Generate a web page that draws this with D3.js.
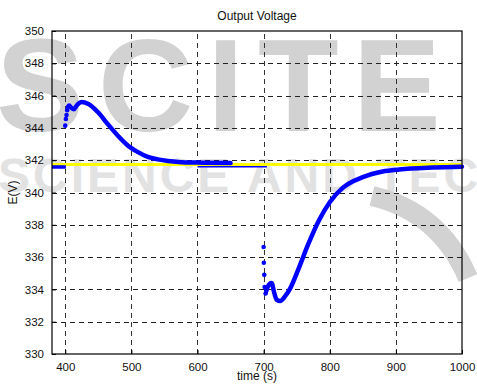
<!DOCTYPE html>
<html>
<head>
<meta charset="utf-8">
<script src="https://cdn.jsdelivr.net/npm/d3@7"></script>
<style>
  body { margin: 0; background: #fff; }
  svg text { font-family: "Liberation Sans", Arial, sans-serif; }
</style>
</head>
<body>
<div id="chart"></div>
<script>
var w = 477;
var h = 385;
var margin = {top: 31, right: 15, bottom: 31, left: 52};

// tick values
var xTicks = [400, 500, 600, 700, 800, 900, 1000];
var yTicks = [330, 332, 334, 336, 338, 340, 342, 344, 346, 348, 350];

// reference level (yellow)
var refLevel = 341.74;

// blue trace, split where the plot jumps
var preT = [380, 390, 401];
var preV = [341.58, 341.58, 341.58];

var jump1T = [400, 401, 402, 403];
var jump1V = [344.14, 344.55, 344.8, 345.1];

var riseT = [404, 406, 409, 413, 418, 425, 435, 450, 465, 480, 495, 510, 525, 540, 555, 575, 600, 650];
var riseV = [345.3, 345.38, 345.25, 345.15, 345.42, 345.6, 345.48, 344.95, 344.2, 343.5, 342.9, 342.5, 342.2, 342.05, 341.95, 341.88, 341.85, 341.82];

var flatT = [600, 650, 705];
var flatV = [341.6, 341.6, 341.6];

var jump2T = [700, 700.3, 701, 701.5, 703];
var jump2V = [336.63, 335.65, 334.9, 334.15, 333.75];

var dipT = [704, 708, 712, 716, 720, 725, 732, 740, 754, 767, 784, 800, 820, 850, 880, 905, 955, 1000];
var dipV = [333.9, 334.3, 334.4, 333.8, 333.35, 333.28, 333.55, 334.05, 335.4, 336.75, 338.3, 339.4, 340.3, 340.95, 341.3, 341.43, 341.55, 341.6];

var svg = d3.select("#chart")
            .append("svg")
            .attr("width", w)
            .attr("height", h);

// watermark behind everything
var wm = svg.append("g").attr("id", "watermark");
wm.append("text")
    .attr("x", -4)
    .attr("y", 131)
    .attr("font-size", 132)
    .attr("font-weight", "bold")
    .attr("letter-spacing", 14)
    .attr("fill", "#d2d2d2")
    .text("SCITE");
wm.append("text")
    .attr("x", -2)
    .attr("y", 192)
    .attr("font-size", 48)
    .attr("font-weight", "bold")
    .attr("letter-spacing", 3)
    .attr("fill", "#e2e2e2")
    .text("SCIENCE AND TECHNOLOGY");
wm.append("path")
    .attr("d", "M372,196 Q440,212 468,278")
    .attr("fill", "none")
    .attr("stroke", "#d2d2d2")
    .attr("stroke-width", 20);

var x = d3.scaleLinear()
    .domain([380, 1000])
    .range([margin.left, w - margin.right]);
var y = d3.scaleLinear()
    .domain([330, 350])
    .range([h - margin.bottom, margin.top]);

// dashed grid
var grid = svg.append("g").attr("class", "grid");
grid.selectAll(".gx")
    .data(xTicks.slice(0, -1))
    .enter()
    .append("line")
    .attr("x1", (d) => Math.round(x(d)) + 0.5)
    .attr("x2", (d) => Math.round(x(d)) + 0.5)
    .attr("y1", y(330))
    .attr("y2", y(350))
    .attr("stroke", "#333")
    .attr("stroke-dasharray", "5,4");
grid.selectAll(".gy")
    .data(yTicks.slice(1, -1))
    .enter()
    .append("line")
    .attr("x1", x(380))
    .attr("x2", x(1000))
    .attr("y1", (d) => Math.round(y(d)) + 0.5)
    .attr("y2", (d) => Math.round(y(d)) + 0.5)
    .attr("stroke", "#222")
    .attr("stroke-dasharray", "5,4");

// yellow reference
svg.append("line")
    .attr("x1", x(380))
    .attr("x2", x(1000))
    .attr("y1", y(refLevel))
    .attr("y2", y(refLevel))
    .attr("stroke", "#ffff00")
    .attr("stroke-width", 3);

// blue trace
var line = d3.line()
    .x((d) => x(d[0]))
    .y((d) => y(d[1]))
    .curve(d3.curveMonotoneX);

function zip(ts, vs) { return ts.map((t, i) => [t, vs[i]]); }

svg.append("path")
    .datum(zip(preT, preV))
    .attr("d", line)
    .attr("fill", "none")
    .attr("stroke", "#0000ff")
    .attr("stroke-width", 3.5);
svg.append("path")
    .datum(zip(flatT, flatV))
    .attr("d", line)
    .attr("fill", "none")
    .attr("stroke", "#0000ff")
    .attr("stroke-width", 1.5);
svg.append("path")
    .datum(zip(riseT, riseV))
    .attr("d", line)
    .attr("fill", "none")
    .attr("stroke", "#0000ff")
    .attr("stroke-width", 4.5)
    .attr("stroke-linecap", "round");
svg.append("path")
    .datum(zip(dipT, dipV))
    .attr("d", line)
    .attr("fill", "none")
    .attr("stroke", "#0000ff")
    .attr("stroke-width", 4.5)
    .attr("stroke-linecap", "round");

svg.selectAll(".dot")
    .data(zip(jump1T, jump1V).concat(zip(jump2T, jump2V)))
    .enter()
    .append("circle")
    .attr("class", "dot")
    .attr("cx", (d) => x(d[0]))
    .attr("cy", (d) => y(d[1]))
    .attr("r", 2.3)
    .attr("fill", "#0000ff");

// axes box
svg.append("rect")
    .attr("x", x(380))
    .attr("y", y(350))
    .attr("width", x(1000) - x(380))
    .attr("height", y(330) - y(350))
    .attr("fill", "none")
    .attr("stroke", "#000")
    .attr("stroke-width", 1.2);

// axes labels
const xAxis = d3.axisBottom(x).tickValues(xTicks).tickFormat(d3.format("d"))
    .tickSizeInner(-4).tickSizeOuter(0).tickPadding(9);
const yAxis = d3.axisLeft(y).tickValues(yTicks).tickFormat(d3.format("d"))
    .tickSizeInner(-4).tickSizeOuter(0).tickPadding(8);
svg.append("g")
    .attr("transform", "translate(0," + (h - margin.bottom) + ")")
    .call(xAxis)
    .call((g) => g.select(".domain").remove());
svg.append("g")
    .attr("transform", "translate(" + margin.left + ",0)")
    .call(yAxis)
    .call((g) => g.select(".domain").remove());
svg.selectAll(".tick text")
    .attr("font-size", 11.5)
    .attr("font-family", "Liberation Sans, Arial, sans-serif")
    .attr("fill", "#111");
svg.selectAll(".tick line").attr("stroke", "#000");

svg.append("text")
    .attr("x", (x(380) + x(1000)) / 2)
    .attr("y", 20)
    .attr("text-anchor", "middle")
    .attr("font-size", 12)
    .attr("fill", "#111")
    .text("Output Voltage");
svg.append("text")
    .attr("x", (x(380) + x(1000)) / 2)
    .attr("y", 380)
    .attr("text-anchor", "middle")
    .attr("font-size", 12)
    .attr("fill", "#111")
    .text("time (s)");
svg.append("text")
    .attr("transform", "translate(17," + ((y(330) + y(350)) / 2) + ") rotate(-90)")
    .attr("text-anchor", "middle")
    .attr("font-size", 12)
    .attr("fill", "#111")
    .text("E(V)");
</script>
</body>
</html>
